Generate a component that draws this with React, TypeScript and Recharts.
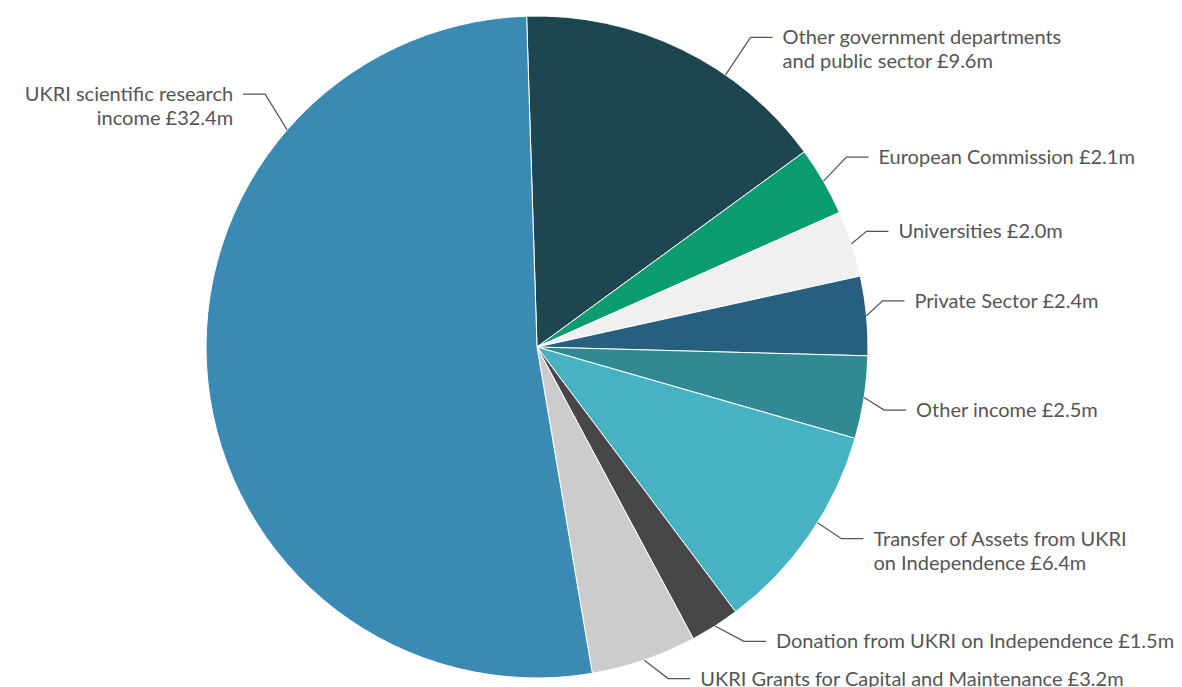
import { PieChart, Pie, Cell } from "recharts"

const categories = [
  "Other government departments\nand public sector",
  "European Commission",
  "Universities",
  "Private Sector",
  "Other income",
  "Transfer of Assets from UKRI\non Independence",
  "Donation from UKRI on Independence",
  "UKRI Grants for Capital and Maintenance",
  "UKRI scientific research\nincome",
]

const values = [9.6, 2.1, 2.0, 2.4, 2.5, 6.4, 1.5, 3.2, 32.4]

const colors = [
  "#1d4650",
  "#0b9c6f",
  "#f0f0f0",
  "#27607e",
  "#318a93",
  "#46b2c4",
  "#474747",
  "#cccccc",
  "#3a8ab4",
]

// label layout: where the connector touches the slice (deg shift), row nudges (px), elbow width (px)
const anchorShift = [-8.7, 0, 0, 0, 0, 2.5, 0, 0, -46.7]
const labelNudge = [-1, -9, -3, -12, 8, 12, -10, -10, -4]
const elbowWidth = [25, 23, 15, 16, 20, 24, 29, 24, 22]

const chartData = categories.map((name, i) => ({ name, value: values[i] }))

const RADIAN = Math.PI / 180
const LINE_HEIGHT = 24

const renderLabel = (props: any) => {
  const { cx, cy, midAngle, outerRadius, index, name, value } = props
  const angle = (midAngle + anchorShift[index]) * RADIAN
  const cos = Math.cos(angle)
  const sin = Math.sin(angle)
  const sign = cos >= 0 ? 1 : -1

  const lines = `${name} £${value.toFixed(1)}m`.split("\n")
  const tx = cx + outerRadius * cos
  const ty = cy - outerRadius * sin
  const center = cy - (outerRadius + 30) * sin
  const rowY = center - ((lines.length - 1) * LINE_HEIGHT) / 2 + labelNudge[index]

  const ex = tx + sign * elbowWidth[index]
  const hx = ex + sign * 22
  const textX = hx + sign * 10

  return (
    <g key={`label-${index}`}>
      <polyline
        points={`${tx},${ty} ${ex},${rowY} ${hx},${rowY}`}
        fill="none"
        stroke="#555555"
        strokeWidth={1.2}
      />
      <text
        x={textX}
        y={rowY + 7}
        textAnchor={sign > 0 ? "start" : "end"}
        fill="#555555"
        fontSize={20}
        fontFamily="Lato, 'Open Sans', sans-serif"
      >
        {lines.map((line, i) => (
          <tspan key={i} x={textX} dy={i === 0 ? 0 : LINE_HEIGHT}>
            {line}
          </tspan>
        ))}
      </text>
    </g>
  )
}

export default function App() {
  return (
    <div style={{ position: "absolute", left: 0, top: 0, width: 1182, height: 687, background: "#fff" }}>
      <PieChart width={1182} height={687} margin={{ top: 0, right: 0, bottom: 0, left: 0 }}>
        <Pie
          data={chartData}
          dataKey="value"
          nameKey="name"
          cx={537}
          cy={347}
          outerRadius={331}
          startAngle={91.8}
          endAngle={-268.2}
          stroke="#ffffff"
          strokeWidth={1}
          label={renderLabel}
          labelLine={false}
          isAnimationActive={false}
        >
          {chartData.map((_, i) => (
            <Cell key={i} fill={colors[i]} />
          ))}
        </Pie>
      </PieChart>
    </div>
  )
}
